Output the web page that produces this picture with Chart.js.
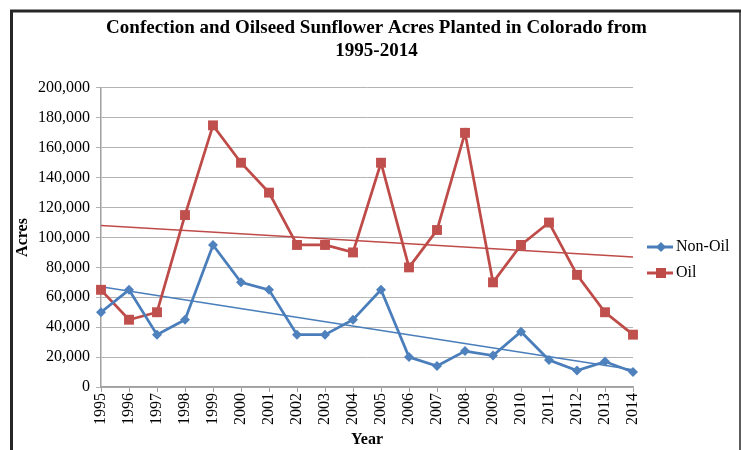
<!DOCTYPE html>
<html>
<head>
<meta charset="utf-8">
<script src="https://cdn.jsdelivr.net/npm/chart.js@4.4.1/dist/chart.umd.min.js"></script>
<style>
  html, body { margin: 0; padding: 0; background: #fff; }
  #wrap { width: 741px; height: 450px; position: relative; }
</style>
</head>
<body>
<div id="wrap"><canvas id="sunChart" width="741" height="450"></canvas></div>
<script>
const years = ['1995', '1996', '1997', '1998', '1999', '2000', '2001', '2002', '2003', '2004',
  '2005', '2006', '2007', '2008', '2009', '2010', '2011', '2012', '2013', '2014'];
const nonOil = [50000, 65000, 35000, 45000, 95000, 70000, 65000, 35000, 35000, 45000,
  65000, 20000, 14000, 24000, 21000, 37000, 18000, 11000, 17000, 10000];
const oil = [65000, 45000, 50000, 115000, 175000, 150000, 130000, 95000, 95000, 90000,
  150000, 80000, 105000, 170000, 70000, 95000, 110000, 75000, 50000, 35000];
// linear trend end values (first year, last year)
const nonOilTrend = [67000, 11500];
const oilTrend = [108000, 87000];

const blue = '#4a7ebb';
const red = '#be4b48';
const serif = "'Liberation Serif', 'Times New Roman', serif";

function trendSeries(ends) {
  return years.map((y, i) => (i === 0 ? ends[0] : i === years.length - 1 ? ends[1] : null));
}

const frame = {
  id: 'frame',
  beforeDraw(chart) {
    const c = chart.ctx;
    c.save();
    c.fillStyle = '#fff';
    c.fillRect(0, 0, chart.width, chart.height);
    c.strokeStyle = '#262626';
    c.lineWidth = 3;
    c.beginPath();
    c.moveTo(11.5, 460);
    c.lineTo(11.5, 11);
    c.lineTo(741, 11);
    c.stroke();
    c.lineWidth = 1.5;
    c.beginPath();
    c.moveTo(740, 11);
    c.lineTo(740, 460);
    c.stroke();
    c.restore();
  }
};

const sideLegend = {
  id: 'sideLegend',
  afterDraw(chart) {
    const c = chart.ctx;
    const items = [
      { label: 'Non-Oil', color: blue, shape: 'diamond', y: 247 },
      { label: 'Oil', color: red, shape: 'square', y: 273 }
    ];
    c.save();
    items.forEach(it => {
      c.strokeStyle = it.color;
      c.lineWidth = 3;
      c.beginPath();
      c.moveTo(647, it.y);
      c.lineTo(673, it.y);
      c.stroke();
      c.fillStyle = it.color;
      c.beginPath();
      if (it.shape === 'diamond') {
        c.moveTo(661, it.y - 5);
        c.lineTo(666, it.y);
        c.lineTo(661, it.y + 5);
        c.lineTo(656, it.y);
        c.closePath();
      } else {
        c.rect(656, it.y - 5, 10, 10);
      }
      c.fill();
      c.fillStyle = '#000';
      c.font = '16px ' + serif;
      c.textBaseline = 'middle';
      c.textAlign = 'left';
      c.fillText(it.label, 676, it.y);
    });
    c.restore();
  }
};

new Chart(document.getElementById('sunChart'), {
  type: 'line',
  data: {
    labels: years,
    datasets: [
      {
        label: 'Non-Oil',
        data: nonOil,
        borderColor: blue,
        backgroundColor: '#4f81bd',
        borderWidth: 2.75,
        pointStyle: 'rectRot',
        pointRadius: 5,
        pointBorderWidth: 0,
        tension: 0
      },
      {
        label: 'Oil',
        data: oil,
        borderColor: red,
        backgroundColor: '#c0504d',
        borderWidth: 2.75,
        pointStyle: 'rect',
        pointRadius: 7,
        pointBorderWidth: 0,
        tension: 0
      },
      {
        label: 'Non-Oil trend',
        data: trendSeries(nonOilTrend),
        borderColor: blue,
        borderWidth: 1.5,
        pointRadius: 0,
        spanGaps: true
      },
      {
        label: 'Oil trend',
        data: trendSeries(oilTrend),
        borderColor: red,
        borderWidth: 1.5,
        pointRadius: 0,
        spanGaps: true
      }
    ]
  },
  options: {
    responsive: false,
    animation: false,
    layout: { padding: { left: 12, right: 0, top: 0, bottom: 0 } },
    plugins: {
      legend: { display: false },
      tooltip: { enabled: false },
      title: {
        display: true,
        text: ['Confection and Oilseed Sunflower Acres Planted in Colorado from', '1995-2014'],
        color: '#000',
        font: { family: serif, size: 19, weight: 'bold', lineHeight: 1.21 },
        padding: { top: 17, bottom: 25 }
      }
    },
    scales: {
      x: {
        grid: {
          drawOnChartArea: false,
          drawTicks: true,
          tickLength: 5,
          color: '#a0a0a0'
        },
        border: { color: '#a0a0a0', width: 1.5 },
        ticks: {
          color: '#000',
          autoSkip: false,
          minRotation: 90,
          maxRotation: 90,
          padding: 1,
          font: { family: serif, size: 16 }
        },
        title: {
          display: true,
          text: 'Year',
          color: '#000',
          font: { family: serif, size: 16, weight: 'bold' },
          padding: { top: 0, bottom: 1 }
        },
        afterFit(scale) { scale.height = 63; }
      },
      y: {
        min: 0,
        max: 200000,
        grid: { color: '#b3b3b3', tickLength: 5 },
        border: { color: '#a0a0a0', width: 1.5 },
        ticks: {
          stepSize: 20000,
          color: '#000',
          padding: 6,
          font: { family: serif, size: 16 },
          callback: v => v.toLocaleString('en-US')
        },
        title: {
          display: true,
          text: 'Acres',
          color: '#000',
          font: { family: serif, size: 16, weight: 'bold' },
          padding: { top: 1.5, bottom: 0 }
        },
        afterFit(scale) { scale.width = 89; }
      },
      legendGap: {
        type: 'linear',
        position: 'right',
        display: true,
        grid: { display: false },
        border: { display: false },
        ticks: { display: false },
        afterFit(scale) { scale.width = 108; }
      }
    }
  },
  plugins: [frame, sideLegend]
});
</script>
</body>
</html>
